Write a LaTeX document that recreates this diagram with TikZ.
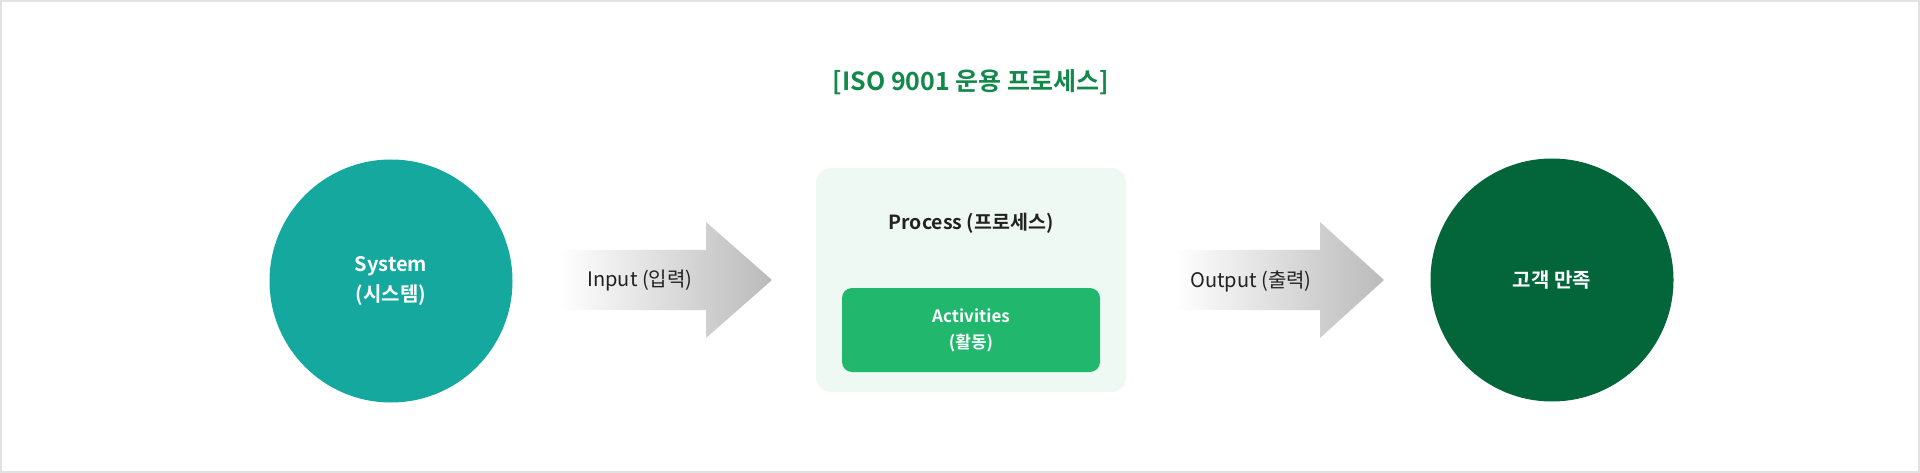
\documentclass[tikz,border=0pt]{standalone}
\usepackage{fontspec}
\setmainfont{Noto Sans CJK KR}[BoldFont={Noto Sans CJK KR Bold}]
\usepackage{tikz}
\usetikzlibrary{positioning}
\definecolor{teal}{HTML}{14A89E}
\definecolor{deepgreen}{HTML}{03663A}
\definecolor{titlegreen}{HTML}{13884B}
\definecolor{mint}{HTML}{EEF9F3}
\definecolor{leaf}{HTML}{21B86E}
\definecolor{ink}{HTML}{222222}
\definecolor{frame}{HTML}{E2E2E2}
\definecolor{arrowgray}{HTML}{BABABA}
\tikzset{
  stage/.style={
    circle,
    minimum size=243pt,
    text=white,
    align=center,
    font=\fontsize{20}{30}\selectfont\bfseries
  },
  panel/.style={
    rectangle,
    rounded corners=15pt,
    fill=mint,
    minimum width=310pt,
    minimum height=224pt
  },
  activity/.style={
    rectangle,
    rounded corners=10pt,
    fill=leaf,
    text=white,
    minimum width=258pt,
    minimum height=84pt,
    align=center,
    font=\fontsize{17}{26}\selectfont\bfseries
  },
  flowlabel/.style={
    text=ink,
    font=\fontsize{20}{24}\selectfont
  },
  flowarrow/.style={left color=white, right color=arrowgray}
}

\begin{document}
\begin{tikzpicture}[x=1pt,y=-1pt]

\useasboundingbox (0,0) rectangle (1920,473);
\draw[frame, line width=2pt] (1,1) rectangle (1919,472);

\node[text=titlegreen, font=\fontsize{25}{30}\selectfont\bfseries] (title) at (971,82) {[ISO 9001 운용 프로세스]};

\node[stage, fill=teal] (system) at (391,281) {System\\(시스템)};

\node[panel] (process) at (971,280) {};
\node[text=ink, font=\fontsize{19.5}{24}\selectfont\bfseries] (processlabel) at (971,223) {Process (프로세스)};
\node[activity] (activities) at (971,330) {Activities\\(활동)};

\node[stage, fill=deepgreen] (satisfaction) at (1552,280) {고객 만족};

% block arrows
\shade[flowarrow] (560,250) -- (706,250) -- (706,222) -- (772,280) -- (706,338) -- (706,310) -- (560,310) -- cycle;
\node[flowlabel] (input) at (640,281) {Input (입력)};

\shade[flowarrow] (1175,250) -- (1320,250) -- (1320,222) -- (1384,280) -- (1320,338) -- (1320,310) -- (1175,310) -- cycle;
\node[flowlabel] (output) at (1251,281) {Output (출력)};

\end{tikzpicture}
\end{document}
